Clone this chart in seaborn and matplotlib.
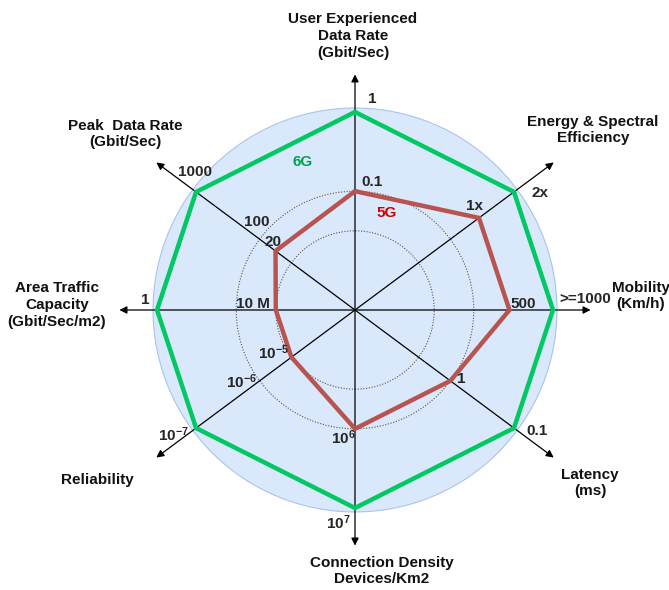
import numpy as np
import pandas as pd
import matplotlib
matplotlib.use("Agg")
import matplotlib.pyplot as plt
from matplotlib.patches import Circle
import seaborn as sns

# axes of the radar, clockwise from the top
axis_names = [
    "User Experienced\nData Rate\n(Gbit/Sec)",
    "Energy & Spectral\nEfficiency",
    "Mobility\n(Km/h)",
    "Latency\n(ms)",
    "Connection Density\nDevices/Km2",
    "Reliability",
    "Area Traffic\nCapacity\n(Gbit/Sec/m2)",
    "Peak  Data Rate\n(Gbit/Sec)",
]
axis_angles = [90, 36.6, 0, -36.6, -90, -143.4, 180, 143.4]

# normalised radius of each generation on each axis
radius_6g = [1.0, 1.0, 1.0, 1.0, 1.0, 1.0, 1.0, 1.0]
radius_5g = [0.6, 0.78, 0.78, 0.6, 0.6, 0.4, 0.4, 0.5]

# value written next to each vertex
labels_6g = ["1", "2x", ">=1000", "0.1", r"$\mathbf{10^{7}}$", r"$\mathbf{10^{-7}}$", "1", "1000"]
labels_5g = ["0.1", "1x", "500", "1", r"$\mathbf{10^{6}}$", r"$\mathbf{10^{-5}}$", "10 M", "20"]

# extra scale marks on the 0.6 ring
ring_labels = {7: "100", 5: r"$\mathbf{10^{-6}}$"}
rings = [0.4, 0.6]

# ---- layout (pixels of the 669x590 picture) ----
W, H = 669, 590
CX, CY, SCALE = 355, 310, 198


def px(x, y):
    return (x - CX) / SCALE, (CY - y) / SCALE


off_6g = [(17, 13), (26, -1), (32, 11), (23, -3), (-17, -15), (-23, -7), (-12, 10), (-1, 20)]
off_5g = [(17, 9), (-4, 12), (14, 6), (11, 2), (-12, -9), (-18, 5), (-23, 6), (-3, 9)]
off_ring = {7: (-3, 17), 5: (-18, -1)}
name_pos = [(353, 36), (593, 130), (641, 296), (590, 483),
            (382, 571), (97, 480), (57, 305), (125, 134)]
arrow_len = [1.19, 1.25, 1.19, 1.25, 1.19, 1.25, 1.19, 1.25]

GREEN = "#00c862"
RED = "#b85450"

sns.set_style("white")
plt.rcParams["font.family"] = ["Liberation Sans", "DejaVu Sans"]
plt.rcParams["mathtext.fontset"] = "custom"
plt.rcParams["mathtext.rm"] = "Liberation Sans"
plt.rcParams["mathtext.bf"] = "Liberation Sans:bold"

fig = plt.figure(figsize=(W / 100, H / 100), dpi=100)
ax = fig.add_axes([0, 0, 1, 1])
ax.set_xlim(-CX / SCALE, (W - CX) / SCALE)
ax.set_ylim(-(H - CY) / SCALE, CY / SCALE)
ax.set_aspect("equal")
ax.axis("off")

theta = np.deg2rad(axis_angles)

# background disc and dotted rings
ax.add_patch(Circle((0, 0), 1.02, facecolor="#dae8fc", edgecolor="#a9c4eb", lw=0.8, zorder=1))
for r in rings:
    ax.add_patch(Circle((0, 0), r, fill=False, edgecolor="#555555", lw=0.8,
                        linestyle=(0, (1, 1.5)), zorder=2))

# axes with arrows
for t, L in zip(theta, arrow_len):
    ax.annotate("", xy=(L * np.cos(t), L * np.sin(t)), xytext=(0, 0),
                arrowprops=dict(arrowstyle="-|>", color="black", lw=0.9,
                                mutation_scale=11, shrinkA=0, shrinkB=0),
                zorder=2, annotation_clip=False)

# the two polygons
rows = []
for name, radii in [("6G", radius_6g), ("5G", radius_5g)]:
    for i in list(range(len(radii))) + [0]:
        rows.append({"gen": name, "x": radii[i] * np.cos(theta[i]),
                     "y": radii[i] * np.sin(theta[i])})
df = pd.DataFrame(rows)
sns.lineplot(data=df, x="x", y="y", hue="gen", palette={"6G": GREEN, "5G": RED},
             sort=False, estimator=None, legend=False, lw=3.2, ax=ax,
             solid_joinstyle="miter", zorder=3)

txt = dict(fontsize=11, fontweight="bold", ha="center", va="center", zorder=5)

for radii, labels, offs in [(radius_6g, labels_6g, off_6g), (radius_5g, labels_5g, off_5g)]:
    for i, (r, lab, o) in enumerate(zip(radii, labels, offs)):
        ax.annotate(lab, xy=(r * np.cos(theta[i]), r * np.sin(theta[i])),
                    xytext=(o[0], o[1]), textcoords="offset pixels", **txt)

for i, lab in ring_labels.items():
    o = off_ring[i]
    ax.annotate(lab, xy=(0.6 * np.cos(theta[i]), 0.6 * np.sin(theta[i])),
                xytext=o, textcoords="offset pixels", **txt)

for name, (x, y) in zip(axis_names, name_pos):
    ax.text(*px(x, y), name, linespacing=1.25, color="#111111", **txt)

ax.text(*px(303, 162), "6G", color="#00a050", **txt)
ax.text(*px(387, 213), "5G", color="#cc0000", **txt)

fig.savefig("out.png", dpi=100)
